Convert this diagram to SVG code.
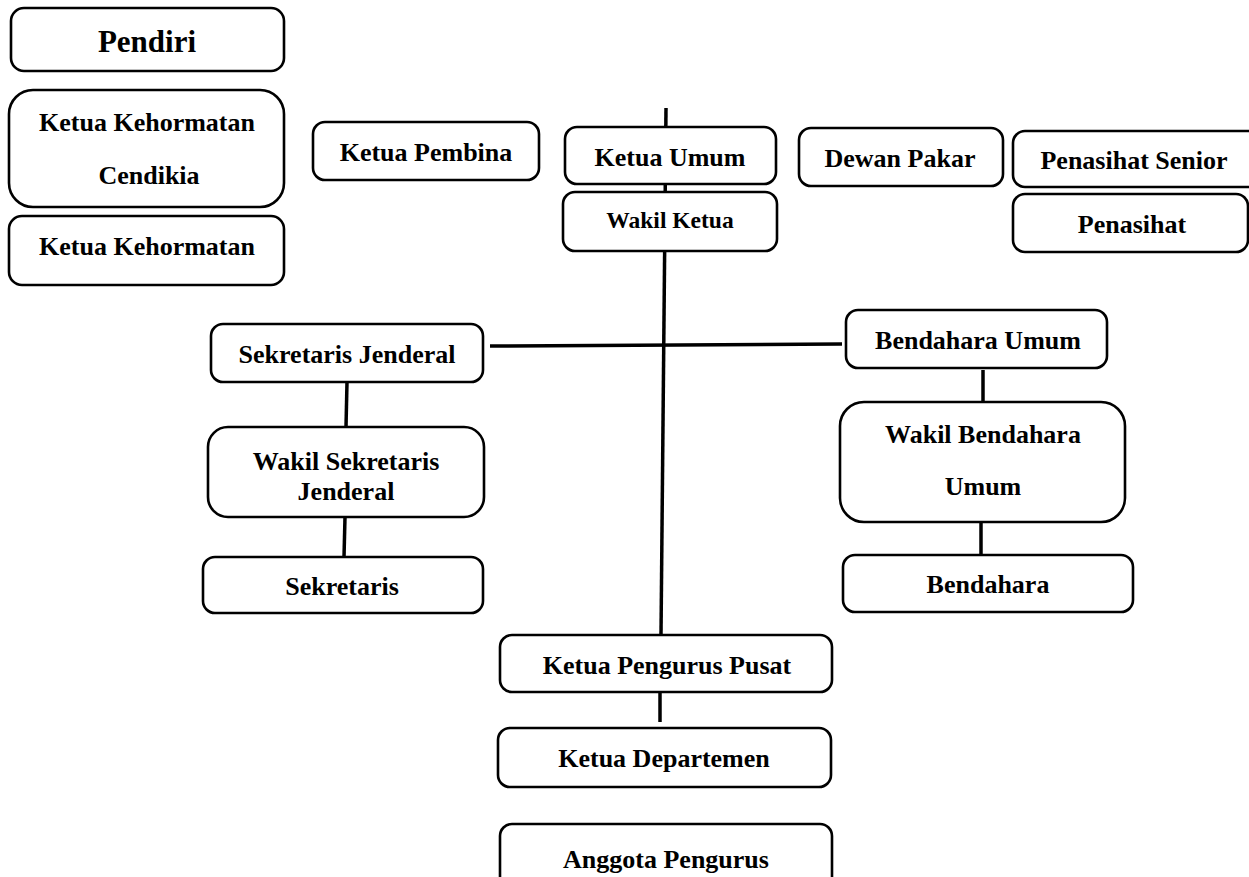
<svg xmlns="http://www.w3.org/2000/svg" width="1249" height="877" viewBox="0 0 1249 877">
<style>
.box{fill:#fff;stroke:#000;stroke-width:2.6}
.t{font-family:"Liberation Serif","Times New Roman",serif;font-weight:bold;font-size:26px;fill:#000;text-anchor:middle}
.big{font-size:31px}
.sm{font-size:23.5px}
.ln{stroke:#000;stroke-width:3.5;fill:none}
</style>
<rect width="1249" height="877" fill="#fff"/>
<g id="connectors">
<line class="ln" x1="666" y1="108" x2="661" y2="635"/>
<line class="ln" x1="490" y1="346" x2="842" y2="344"/>
<line class="ln" x1="347" y1="382" x2="346" y2="427"/>
<line class="ln" x1="345" y1="517" x2="344" y2="557"/>
<line class="ln" x1="983" y1="370" x2="983" y2="402"/>
<line class="ln" x1="981" y1="522" x2="981" y2="555"/>
<line class="ln" x1="660" y1="692" x2="660" y2="722"/>
</g>
<g id="pendiri"><rect class="box" x="11" y="8" width="273" height="63" rx="13"/><text class="t big" x="147" y="52">Pendiri</text></g>
<g id="ketua-kehormatan-cendikia"><rect class="box" x="9" y="90" width="275" height="117" rx="24"/><text class="t" x="147" y="131">Ketua Kehormatan</text><text class="t" x="149" y="184">Cendikia</text></g>
<g id="ketua-kehormatan"><rect class="box" x="9" y="216" width="275" height="69" rx="13"/><text class="t" x="147" y="255">Ketua Kehormatan</text></g>
<g id="ketua-pembina"><rect class="box" x="313" y="122" width="226" height="58" rx="12"/><text class="t" x="426" y="161">Ketua Pembina</text></g>
<g id="ketua-umum"><rect class="box" x="565" y="127" width="211" height="57" rx="12"/><text class="t" x="670" y="166">Ketua Umum</text></g>
<g id="wakil-ketua"><rect class="box" x="563" y="192" width="214" height="59" rx="12"/><text class="t sm" x="670" y="228">Wakil Ketua</text></g>
<g id="dewan-pakar"><rect class="box" x="799" y="128" width="204" height="58" rx="12"/><text class="t" x="900" y="167">Dewan Pakar</text></g>
<g id="penasihat-senior"><rect class="box" x="1013" y="131" width="250" height="56" rx="12"/><text class="t" x="1134" y="169">Penasihat Senior</text></g>
<g id="penasihat"><rect class="box" x="1013" y="194" width="235" height="58" rx="12"/><text class="t" x="1132" y="233">Penasihat</text></g>
<g id="sekretaris-jenderal"><rect class="box" x="211" y="324" width="272" height="58" rx="12"/><text class="t" x="347" y="363">Sekretaris Jenderal</text></g>
<g id="wakil-sekretaris-jenderal"><rect class="box" x="208" y="427" width="276" height="90" rx="20"/><text class="t" x="346" y="470">Wakil Sekretaris</text><text class="t" x="346" y="500">Jenderal</text></g>
<g id="sekretaris"><rect class="box" x="203" y="557" width="280" height="56" rx="12"/><text class="t" x="342" y="595">Sekretaris</text></g>
<g id="bendahara-umum"><rect class="box" x="846" y="310" width="261" height="58" rx="12"/><text class="t" x="978" y="349">Bendahara Umum</text></g>
<g id="wakil-bendahara-umum"><rect class="box" x="840" y="402" width="285" height="120" rx="24"/><text class="t" x="983" y="443">Wakil Bendahara</text><text class="t" x="983" y="495">Umum</text></g>
<g id="bendahara"><rect class="box" x="843" y="555" width="290" height="57" rx="12"/><text class="t" x="988" y="593">Bendahara</text></g>
<g id="ketua-pengurus-pusat"><rect class="box" x="500" y="635" width="332" height="57" rx="12"/><text class="t" x="667" y="674">Ketua Pengurus Pusat</text></g>
<g id="ketua-departemen"><rect class="box" x="498" y="728" width="333" height="59" rx="12"/><text class="t" x="664" y="767">Ketua Departemen</text></g>
<g id="anggota-pengurus"><rect class="box" x="500" y="824" width="332" height="70" rx="12"/><text class="t" x="666" y="868">Anggota Pengurus</text></g>
</svg>
